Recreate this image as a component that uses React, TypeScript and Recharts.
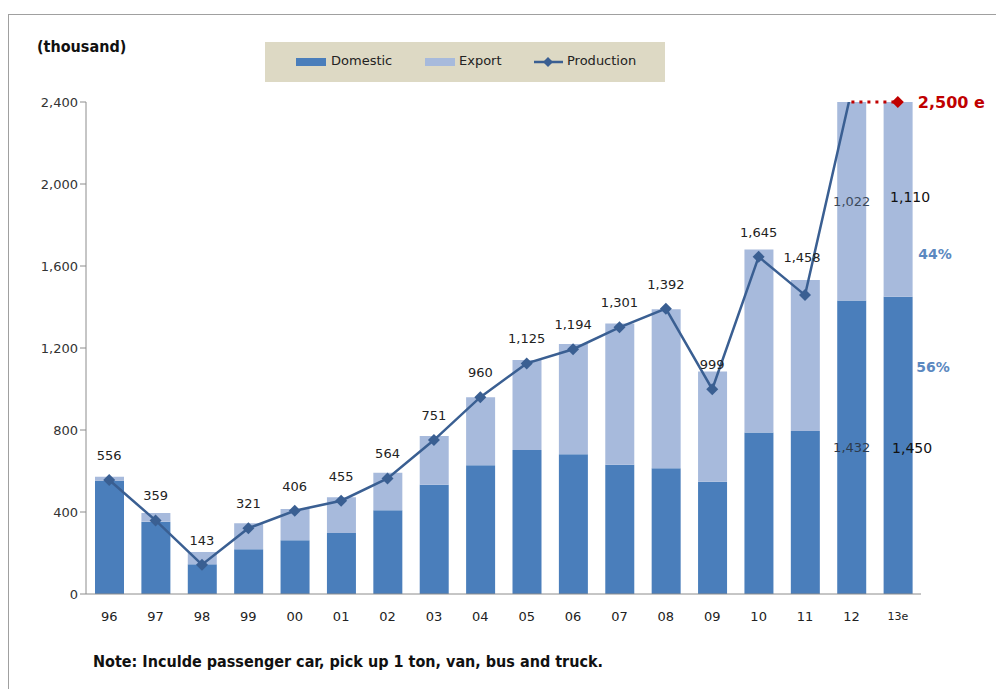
import React from 'react';
import { ComposedChart, Bar, Line, XAxis, YAxis, LabelList, Legend } from 'recharts';

const categories = ['96', '97', '98', '99', '00', '01', '02', '03', '04', '05', '06', '07', '08', '09', '10', '11', '12', '13e'];
const domestic = [552, 353, 145, 218, 262, 298, 409, 533, 628, 703, 682, 630, 614, 548, 788, 795, 1432, 1450];
const exportVals = [20, 42, 60, 127, 153, 174, 182, 238, 332, 438, 538, 690, 775, 537, 893, 737, 1022, 1110];
const production = [556, 359, 143, 321, 406, 455, 564, 751, 960, 1125, 1194, 1301, 1392, 999, 1645, 1458, 2454, null];
const forecast = [null, null, null, null, null, null, null, null, null, null, null, null, null, null, null, null, 2500, 2500];
const yTicks = [0, 400, 800, 1200, 1600, 2000, 2400];
const shareLabels = { export: '44%', domestic: '56%' };
const forecastLabel = '2,500 e';

const data = categories.map((c, i) => ({
  cat: c,
  domestic: domestic[i],
  export: exportVals[i],
  production: production[i],
  forecast: forecast[i],
}));

const C_DOM = '#4a7ebb';
const C_EXP = '#a7badc';
const C_LINE = '#3a5f92';
const C_RED = '#c00000';
const FONT = "'DejaVu Sans', 'Liberation Sans', sans-serif";
const FONT_C = "'DejaVu Sans Condensed', 'Liberation Sans Narrow', 'DejaVu Sans', sans-serif";

const fmt = (v: number) => v.toLocaleString('en-US');

const Diamond = (props: any) => {
  const { cx, cy, index, fill, r = 6 } = props;
  if (cx == null || cy == null) return null;
  if (index === 16) return null;
  return <polygon key={`d-${index}`} points={`${cx},${cy - r} ${cx + r},${cy} ${cx},${cy + r} ${cx - r},${cy}`} fill={fill} />;
};

const ProdDot = (props: any) => <Diamond {...props} fill={C_LINE} r={6} />;

const ForecastDot = (props: any) => {
  if (props.index !== 17) return null;
  return <Diamond {...props} fill={C_RED} r={6} />;
};

const ProdLabel = (props: any) => {
  const { x, y, value, index } = props;
  if (value == null || index === 16) return null;
  const up = index === 15 ? 33 : 20;
  const dx = index === 15 ? -3 : 0;
  return (
    <text x={x + dx} y={y - up} textAnchor="middle" fontSize={13} fill="#222" fontFamily={FONT}>
      {fmt(value)}
    </text>
  );
};

const ForecastLabel = (props: any) => {
  const { x, y, index } = props;
  if (index !== 17) return null;
  return (
    <text x={x + 20} y={y + 6} textAnchor="start" fontSize={16} fontWeight="bold" fill={C_RED} fontFamily={FONT}>
      {forecastLabel}
    </text>
  );
};

const ExportLabel = (props: any) => {
  const { x, y, width, height, value, index } = props;
  if (index < 16) return null;
  const cx = x + width / 2;
  const bottom = y + height;
  if (index === 16) {
    return (
      <text x={cx} y={y + height / 2 + 5} textAnchor="middle" fontSize={13} fill="#3c4a5c" fontFamily={FONT}>
        {fmt(value)}
      </text>
    );
  }
  return (
    <g>
      <text x={cx + 12} y={bottom - 95} textAnchor="middle" fontSize={14} fill="#111" fontFamily={FONT}>
        {fmt(value)}
      </text>
      <text x={cx + 37} y={bottom - 38} textAnchor="middle" fontSize={14} fontWeight="bold" fill="#5b88c0" fontFamily={FONT}>
        {shareLabels.export}
      </text>
    </g>
  );
};

const DomesticLabel = (props: any) => {
  const { x, y, width, height, value, index } = props;
  if (index < 16) return null;
  const cx = x + width / 2;
  if (index === 16) {
    return (
      <text x={cx} y={y + height / 2 + 5} textAnchor="middle" fontSize={13} fill="#2c3a4c" fontFamily={FONT}>
        {fmt(value)}
      </text>
    );
  }
  return (
    <g>
      <text x={cx + 14} y={y + height / 2 + 8} textAnchor="middle" fontSize={14} fill="#111" fontFamily={FONT}>
        {fmt(value)}
      </text>
      <text x={cx + 35} y={y + 75} textAnchor="middle" fontSize={14} fontWeight="bold" fill="#5b88c0" fontFamily={FONT}>
        {shareLabels.domestic}
      </text>
    </g>
  );
};

const XTick = (props: any) => {
  const { x, y, payload } = props;
  const small = payload.value === '13e';
  return (
    <text x={x} y={y + (small ? 18 : 19)} textAnchor="middle" fontSize={small ? 11 : 13} fill="#222" fontFamily={FONT}>
      {payload.value}
    </text>
  );
};

const LegendBox = () => (
  <div style={{ position: 'relative', width: 400, height: 40, background: '#ddd9c4', fontFamily: FONT, fontSize: 13, color: '#222' }}>
    <div style={{ position: 'absolute', left: 31, top: 16, width: 30, height: 8, background: C_DOM }} />
    <div style={{ position: 'absolute', left: 66, top: 11 }}>Domestic</div>
    <div style={{ position: 'absolute', left: 160, top: 16, width: 30, height: 8, background: C_EXP }} />
    <div style={{ position: 'absolute', left: 194, top: 11 }}>Export</div>
    <svg style={{ position: 'absolute', left: 268, top: 12 }} width={32} height={16}>
      <line x1={1} y1={8} x2={30} y2={8} stroke={C_LINE} strokeWidth={2.5} />
      <polygon points="15,3 20,8 15,13 10,8" fill={C_LINE} />
    </svg>
    <div style={{ position: 'absolute', left: 302, top: 11 }}>Production</div>
  </div>
);

export default function App() {
  return (
    <div style={{ position: 'absolute', left: 0, top: 0, width: 996, height: 689, background: '#fff', overflow: 'hidden' }}>
      <div style={{ position: 'absolute', left: 8, top: 14, width: 1000, height: 676, border: '1.5px solid #a0a0a0', boxSizing: 'border-box' }} />
      <div style={{ position: 'absolute', left: 37, top: 37, fontFamily: FONT_C, fontWeight: 'bold', fontSize: 16, color: '#111' }}>(thousand)</div>
      <div style={{ position: 'absolute', left: 93, top: 652, fontFamily: FONT_C, fontWeight: 'bold', fontSize: 16, color: '#111' }}>
        Note: Inculde passenger car, pick up 1 ton, van, bus and truck.
      </div>
      <div style={{ position: 'absolute', left: 0, top: 0 }}>
        <ComposedChart width={996} height={689} data={data} margin={{ top: 102, right: 75, bottom: 65, left: 40 }}>
          <XAxis dataKey="cat" height={30} tickLine={false} axisLine={{ stroke: '#8c8c8c' }} tick={<XTick />} interval={0} />
          <YAxis
            width={46}
            domain={[0, 2400]}
            ticks={yTicks}
            allowDataOverflow
            tickFormatter={(v: number) => fmt(v)}
            tickLine={{ stroke: '#8c8c8c' }}
            axisLine={{ stroke: '#8c8c8c' }}
            tick={{ fill: '#333', fontSize: 13, fontFamily: FONT }}
          />
          <YAxis yAxisId="f" hide domain={[0, 2500]} />
          <Legend
            verticalAlign="middle"
            align="center"
            layout="horizontal"
            content={() => <LegendBox />}
            wrapperStyle={{ top: 42, left: 265, width: 400, height: 40 }}
          />
          <Bar dataKey="domestic" name="Domestic" stackId="a" fill={C_DOM} barSize={29} isAnimationActive={false}>
            <LabelList dataKey="domestic" content={<DomesticLabel />} />
          </Bar>
          <Bar dataKey="export" name="Export" stackId="a" fill={C_EXP} barSize={29} isAnimationActive={false}>
            <LabelList dataKey="export" content={<ExportLabel />} />
          </Bar>
          <Line
            dataKey="production"
            name="Production"
            type="linear"
            stroke={C_LINE}
            strokeWidth={2.5}
            dot={<ProdDot />}
            activeDot={false}
            isAnimationActive={false}
          >
            <LabelList dataKey="production" content={<ProdLabel />} />
          </Line>
          <Line
            yAxisId="f"
            dataKey="forecast"
            type="linear"
            stroke={C_RED}
            strokeWidth={3}
            strokeDasharray="3 5"
            dot={<ForecastDot />}
            activeDot={false}
            legendType="none"
            isAnimationActive={false}
          >
            <LabelList dataKey="forecast" content={<ForecastLabel />} />
          </Line>
        </ComposedChart>
      </div>
    </div>
  );
}
